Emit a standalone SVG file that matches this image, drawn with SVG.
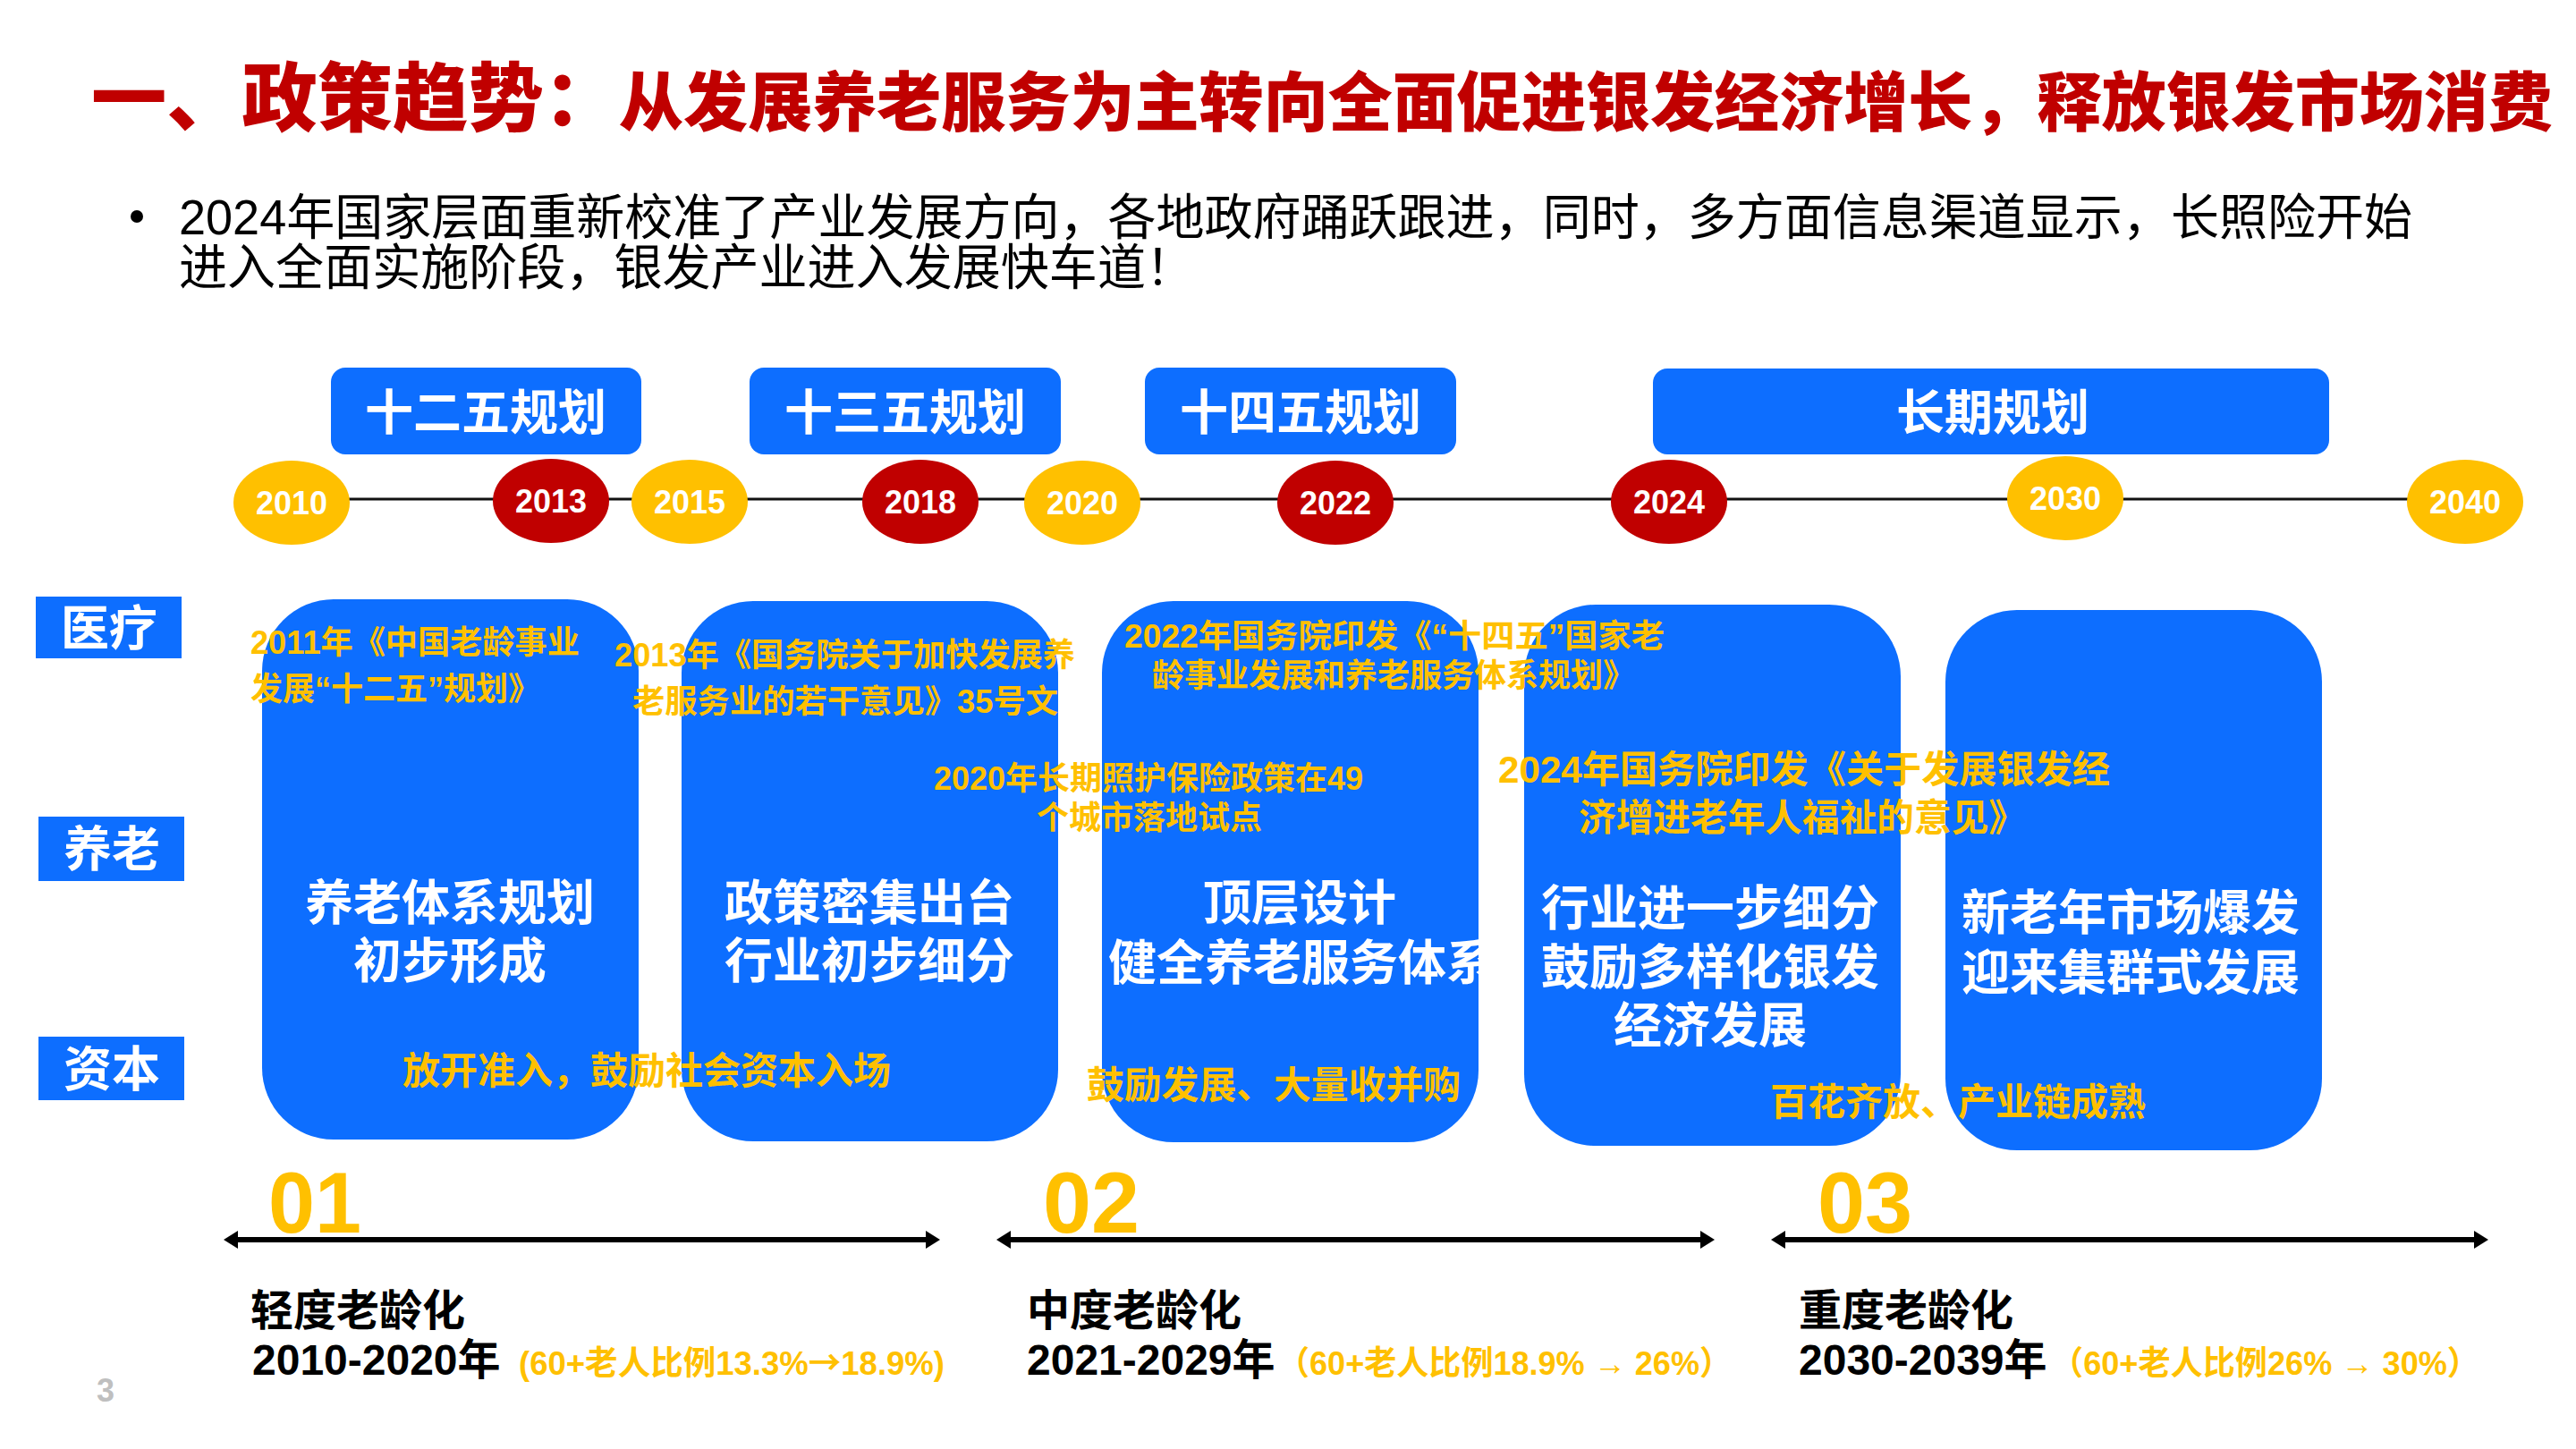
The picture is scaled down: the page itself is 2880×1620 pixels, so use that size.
<svg xmlns="http://www.w3.org/2000/svg" width="2880" height="1620" viewBox="0 0 2880 1620">
<defs>
<style>
.cjk{font-family:"Liberation Sans","Noto Sans CJK SC",sans-serif}
.b{font-weight:bold}
.title{font-family:"Noto Sans CJK SC",sans-serif;font-weight:900;fill:#C00000}
.body{font-size:55px;fill:#000}
.blue{fill:#0D6EFF}
.yr{font-family:"Liberation Sans",sans-serif;font-weight:bold;font-size:36px;fill:#fff;text-anchor:middle}
.plan{font-size:54px;fill:#fff;text-anchor:middle}
.big{font-size:54px;fill:#fff;text-anchor:middle}
.y36{font-size:36px;fill:#FFC000}
.y42{font-size:42px;fill:#FFC000}
.num{font-family:"Liberation Sans",sans-serif;font-weight:bold;font-size:96px;fill:#FFC000}
.stage{font-size:48px;fill:#000}
.pct{font-size:37px;fill:#FFC000}
.arr{stroke:#000;stroke-width:6;fill:none;marker-start:url(#ah);marker-end:url(#ah)}
</style>
<marker id="ah" viewBox="0 0 16 20" markerWidth="16" markerHeight="20" refX="4" refY="10" orient="auto-start-reverse" markerUnits="userSpaceOnUse">
<path d="M0,0 L16,10 L0,20 z" fill="#000"/>
</marker>
</defs>
<rect width="2880" height="1620" fill="#fff"/>

<g id="title">
<text class="title" y="140"><tspan x="102" font-size="84" textLength="590" lengthAdjust="spacingAndGlyphs">一、政策趋势：</tspan><tspan x="692" font-size="72" textLength="2162" lengthAdjust="spacingAndGlyphs">从发展养老服务为主转向全面促进银发经济增长，释放银发市场消费</tspan></text>
</g>

<g id="bullet">
<circle cx="153" cy="242" r="7" fill="#000"/>
<text class="cjk body" x="200" y="262" textLength="2497" lengthAdjust="spacingAndGlyphs">2024年国家层面重新校准了产业发展方向，各地政府踊跃跟进，同时，多方面信息渠道显示，长照险开始</text>
<text class="cjk body" x="200" y="318" textLength="1135" lengthAdjust="spacingAndGlyphs">进入全面实施阶段，银发产业进入发展快车道！</text>
</g>

<g id="connectors">
<line x1="326" y1="558" x2="2756" y2="558" stroke="#111" stroke-width="3"/>
<line class="arr" x1="262" y1="1386" x2="1039" y2="1386"/>
<line class="arr" x1="1126" y1="1386" x2="1905" y2="1386"/>
<line class="arr" x1="1992" y1="1386" x2="2770" y2="1386"/>
</g>

<g id="plan-125">
<rect class="blue" x="370" y="411" width="347" height="97" rx="16"/>
<text class="cjk b plan" x="543" y="481">十二五规划</text>
</g>
<g id="plan-135">
<rect class="blue" x="838" y="411" width="348" height="97" rx="16"/>
<text class="cjk b plan" x="1012" y="481">十三五规划</text>
</g>
<g id="plan-145">
<rect class="blue" x="1280" y="411" width="348" height="97" rx="16"/>
<text class="cjk b plan" x="1454" y="481">十四五规划</text>
</g>
<g id="plan-long">
<rect class="blue" x="1848" y="412" width="756" height="96" rx="16"/>
<text class="cjk b plan" x="2228" y="481">长期规划</text>
</g>

<g id="y2010"><ellipse cx="326" cy="562" rx="65" ry="47" fill="#FFC000"/><text class="yr" x="326" y="575">2010</text></g>
<g id="y2013"><ellipse cx="616" cy="560" rx="65" ry="47" fill="#C00000"/><text class="yr" x="616" y="573">2013</text></g>
<g id="y2015"><ellipse cx="771" cy="561" rx="65" ry="47" fill="#FFC000"/><text class="yr" x="771" y="574">2015</text></g>
<g id="y2018"><ellipse cx="1029" cy="561" rx="65" ry="47" fill="#C00000"/><text class="yr" x="1029" y="574">2018</text></g>
<g id="y2020"><ellipse cx="1210" cy="562" rx="65" ry="47" fill="#FFC000"/><text class="yr" x="1210" y="575">2020</text></g>
<g id="y2022"><ellipse cx="1493" cy="562" rx="65" ry="47" fill="#C00000"/><text class="yr" x="1493" y="575">2022</text></g>
<g id="y2024"><ellipse cx="1866" cy="561" rx="65" ry="47" fill="#C00000"/><text class="yr" x="1866" y="574">2024</text></g>
<g id="y2030"><ellipse cx="2309" cy="557" rx="65" ry="47" fill="#FFC000"/><text class="yr" x="2309" y="570">2030</text></g>
<g id="y2040"><ellipse cx="2756" cy="561" rx="65" ry="47" fill="#FFC000"/><text class="yr" x="2756" y="574">2040</text></g>

<g id="label-medical">
<rect class="blue" x="40" y="667" width="163" height="69"/>
<text class="cjk b big" x="122" y="722">医疗</text>
</g>
<g id="label-elderly">
<rect class="blue" x="43" y="913" width="163" height="72"/>
<text class="cjk b big" x="125" y="969">养老</text>
</g>
<g id="label-capital">
<rect class="blue" x="43" y="1159" width="163" height="71"/>
<text class="cjk b big" x="125" y="1215">资本</text>
</g>

<g id="stage-box-1">
<rect class="blue" x="293" y="670" width="421" height="604" rx="80"/>
<text class="cjk b big" x="503" y="1029">养老体系规划</text>
<text class="cjk b big" x="503" y="1094">初步形成</text>
</g>
<g id="stage-box-2">
<rect class="blue" x="762" y="672" width="421" height="604" rx="80"/>
<text class="cjk b big" x="972" y="1029">政策密集出台</text>
<text class="cjk b big" x="972" y="1094">行业初步细分</text>
</g>
<g id="stage-box-3">
<rect class="blue" x="1232" y="672" width="421" height="605" rx="80"/>
<text class="cjk b big" x="1453" y="1029">顶层设计</text>
<text class="cjk b big" x="1455" y="1096">健全养老服务体系</text>
</g>
<g id="stage-box-4">
<rect class="blue" x="1704" y="676" width="421" height="605" rx="80"/>
<text class="cjk b big" x="1912" y="1035">行业进一步细分</text>
<text class="cjk b big" x="1912" y="1101">鼓励多样化银发</text>
<text class="cjk b big" x="1912" y="1166">经济发展</text>
</g>
<g id="stage-box-5">
<rect class="blue" x="2175" y="682" width="421" height="604" rx="80"/>
<text class="cjk b big" x="2382" y="1040">新老年市场爆发</text>
<text class="cjk b big" x="2382" y="1107">迎来集群式发展</text>
</g>

<g id="policy-2011">
<text class="cjk b y36" x="280" y="731" textLength="368" lengthAdjust="spacingAndGlyphs">2011年《中国老龄事业</text>
<text class="cjk b y36" x="280" y="783">发展“十二五”规划》</text>
</g>
<g id="policy-2013">
<text class="cjk b y36" x="687" y="745" textLength="515" lengthAdjust="spacingAndGlyphs">2013年《国务院关于加快发展养</text>
<text class="cjk b y36" x="707" y="797" textLength="476" lengthAdjust="spacingAndGlyphs">老服务业的若干意见》35号文</text>
</g>
<g id="policy-2022">
<text class="cjk b y36" x="1257" y="724" textLength="604" lengthAdjust="spacingAndGlyphs">2022年国务院印发《“十四五”国家老</text>
<text class="cjk b y36" x="1288" y="768" textLength="540" lengthAdjust="spacingAndGlyphs">龄事业发展和养老服务体系规划》</text>
</g>
<g id="policy-2020">
<text class="cjk b y36" x="1044" y="883" textLength="480" lengthAdjust="spacingAndGlyphs">2020年长期照护保险政策在49</text>
<text class="cjk b y36" x="1159" y="927" textLength="252" lengthAdjust="spacingAndGlyphs">个城市落地试点</text>
</g>
<g id="policy-2024">
<text class="cjk b y42" x="1675" y="875" textLength="684" lengthAdjust="spacingAndGlyphs">2024年国务院印发《关于发展银发经</text>
<text class="cjk b y42" x="1765" y="929" textLength="500" lengthAdjust="spacingAndGlyphs">济增进老年人福祉的意见》</text>
</g>
<g id="capital-texts">
<text class="cjk b y42" x="450" y="1212" textLength="546" lengthAdjust="spacingAndGlyphs">放开准入，鼓励社会资本入场</text>
<text class="cjk b y42" x="1215" y="1228" textLength="418" lengthAdjust="spacingAndGlyphs">鼓励发展、大量收并购</text>
<text class="cjk b y42" x="1979" y="1247" textLength="420" lengthAdjust="spacingAndGlyphs">百花齐放、产业链成熟</text>
</g>

<g id="phase-1">
<text class="num" x="300" y="1378" textLength="104" lengthAdjust="spacingAndGlyphs">01</text>
<text class="cjk b stage" x="280" y="1482">轻度老龄化</text>
<text class="cjk b stage" x="282" y="1537">2010-2020年</text>
<text class="cjk b pct" x="580" y="1537" textLength="476" lengthAdjust="spacingAndGlyphs">(60+老人比例13.3%<tspan font-family="Noto Sans CJK SC,sans-serif">→</tspan>18.9%)</text>
</g>
<g id="phase-2">
<text class="num" x="1166" y="1378" textLength="108" lengthAdjust="spacingAndGlyphs">02</text>
<text class="cjk b stage" x="1148" y="1482">中度老龄化</text>
<text class="cjk b stage" x="1148" y="1537">2021-2029年</text>
<text class="cjk b pct" x="1428" y="1537" textLength="508" lengthAdjust="spacingAndGlyphs">（60+老人比例18.9% → 26%）</text>
</g>
<g id="phase-3">
<text class="num" x="2032" y="1378" textLength="106" lengthAdjust="spacingAndGlyphs">03</text>
<text class="cjk b stage" x="2011" y="1482">重度老龄化</text>
<text class="cjk b stage" x="2011" y="1537">2030-2039年</text>
<text class="cjk b pct" x="2293" y="1537" textLength="479" lengthAdjust="spacingAndGlyphs">（60+老人比例26% → 30%）</text>
</g>

<g id="page-number">
<text x="108" y="1567" font-family="Liberation Sans,sans-serif" font-weight="bold" font-size="36" fill="#BFBFBF">3</text>
</g>
</svg>
